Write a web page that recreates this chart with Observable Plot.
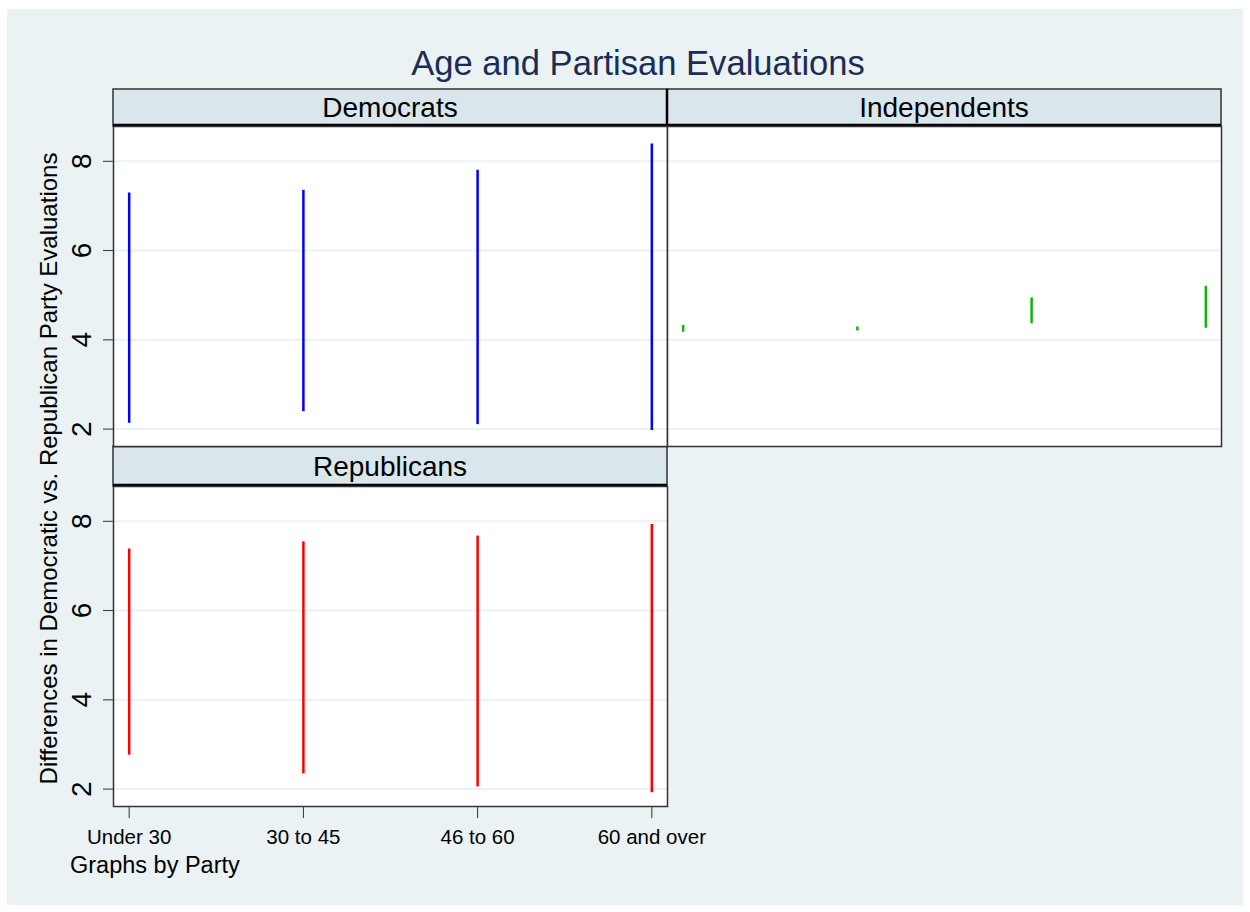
<!DOCTYPE html>
<html>
<head>
<meta charset="utf-8">
<script src="https://cdn.jsdelivr.net/npm/d3@7"></script>
<script src="https://cdn.jsdelivr.net/npm/@observablehq/plot@0.6"></script>
<style>
  body { margin: 0; background: #fff; font-family: "Liberation Sans", Arial, sans-serif; }
  #chart { position: relative; width: 1250px; height: 912px; overflow: hidden; }
  #chart > .layer { position: absolute; }
</style>
</head>
<body>
<div id="chart"></div>
<script>
// Age groups on the x axis and the three party panels
const ages = ["Under 30", "30 to 45", "46 to 60", "60 and over"];
const parties = ["Democrats", "Independents", "Republicans"];

// Range of the Democratic-minus-Republican evaluation difference, per age group
const demLow  = [2.13, 2.39, 2.10, 1.97];
const demHigh = [7.29, 7.35, 7.80, 8.39];
const indLow  = [4.17, 4.20, 4.36, 4.26];
const indHigh = [4.32, 4.29, 4.94, 5.20];
const repLow  = [2.76, 2.34, 2.05, 1.92];
const repHigh = [7.38, 7.54, 7.67, 7.93];

const yTicks = [2, 4, 6, 8];
const partyColors = ["#0000FF", "#12B312", "#FF0000"];

const titleText = "Age and Partisan Evaluations";
const yTitleText = "Differences in Democratic vs. Republican Party Evaluations";
const noteText = "Graphs by Party";

const FONT = "Liberation Sans, Arial, sans-serif";
const PANEL_W = 554, PANEL_H = 320;
const BG = "#EAF2F3", STRIP = "#D9E6EB";

const chart = document.getElementById("chart");
const ns = "http://www.w3.org/2000/svg";

// Background layer: graph region, title, strips, axis title, note
const base = document.createElementNS(ns, "svg");
base.setAttribute("width", 1250);
base.setAttribute("height", 912);
base.setAttribute("class", "layer");
base.style.left = "0px"; base.style.top = "0px";
chart.appendChild(base);

function el(tag, attrs, text) {
  const e = document.createElementNS(ns, tag);
  for (const k in attrs) e.setAttribute(k, attrs[k]);
  if (text != null) e.textContent = text;
  base.appendChild(e);
  return e;
}

el("rect", {x: 7, y: 9, width: 1236, height: 896, fill: BG});
el("text", {x: 638, y: 75, "text-anchor": "middle", "font-family": FONT, "font-size": 34.6, fill: "#1c2d55"}, titleText);

// Panel strips (label boxes above each panel)
const strips = [
  {label: parties[0], x: 113, y: 89, h: 37},
  {label: parties[1], x: 667, y: 89, h: 37},
  {label: parties[2], x: 113, y: 446, h: 40}
];
for (const s of strips) {
  el("rect", {x: s.x, y: s.y, width: PANEL_W, height: s.h, fill: STRIP, stroke: "#333", "stroke-width": 1.5});
  el("line", {x1: s.x, x2: s.x + PANEL_W, y1: s.y + s.h - 1, y2: s.y + s.h - 1, stroke: "#000", "stroke-width": 2.5});
  el("text", {x: s.x + PANEL_W / 2, y: s.y + s.h / 2 + 9.5, "text-anchor": "middle", "font-family": FONT, "font-size": 28, fill: "#000"}, s.label);
}
el("line", {x1: 667, x2: 667, y1: 89, y2: 126, stroke: "#000", "stroke-width": 2.5});
el("line", {x1: 113, x2: 667, y1: 446, y2: 446, stroke: "#000", "stroke-width": 2.5});

el("text", {x: 0, y: 0, transform: "translate(57,468.5) rotate(-90)", "text-anchor": "middle", "font-family": FONT, "font-size": 24, fill: "#000"}, yTitleText);
el("text", {x: 70, y: 873, "font-family": FONT, "font-size": 23.5, fill: "#000"}, noteText);

// One range-spike panel per party
function panel({low, high, color, showY, showX}) {
  const rows = ages.map((age, i) => ({age, lo: low[i], hi: high[i]}));
  const mL = showY ? 60 : 4;
  const mB = showX ? 60 : 4;
  return Plot.plot({
    width: mL + PANEL_W + 4,
    height: 4 + PANEL_H + mB,
    marginLeft: mL, marginRight: 4, marginTop: 4, marginBottom: mB,
    style: {background: "transparent", overflow: "visible", fontFamily: FONT, color: "#000"},
    x: {type: "point", domain: ages, padding: 0.09, round: false, axis: null},
    y: {domain: [1.61, 8.78], axis: null},
    marks: [
      Plot.frame({fill: "white", stroke: null}),
      Plot.gridY(yTicks, {stroke: BG, strokeOpacity: 1, strokeWidth: 2}),
      Plot.ruleX(rows, {x: "age", y1: "lo", y2: "hi", stroke: color, strokeWidth: 2.5}),
      Plot.frame({stroke: "#333", strokeWidth: 1.5}),
      showY ? Plot.axisY(yTicks, {tickSize: 10, tickRotate: -90, tickPadding: 13, fontSize: 28, stroke: "#333", fill: "#000", label: null}) : null,
      showX ? Plot.axisX({tickSize: 12, tickPadding: 11, fontSize: 20.5, stroke: "#333", fill: "#000", label: null}) : null
    ]
  });
}

function place(node, left, top) {
  node.classList.add("layer");
  node.style.left = left + "px";
  node.style.top = top + "px";
  node.style.position = "absolute";
  chart.appendChild(node);
}

place(panel({low: demLow, high: demHigh, color: partyColors[0], showY: true, showX: false}), 113 - 60, 126 - 4);
place(panel({low: indLow, high: indHigh, color: partyColors[1], showY: false, showX: false}), 667 - 4, 126 - 4);
place(panel({low: repLow, high: repHigh, color: partyColors[2], showY: true, showX: true}), 113 - 60, 486 - 4);
</script>
</body>
</html>
